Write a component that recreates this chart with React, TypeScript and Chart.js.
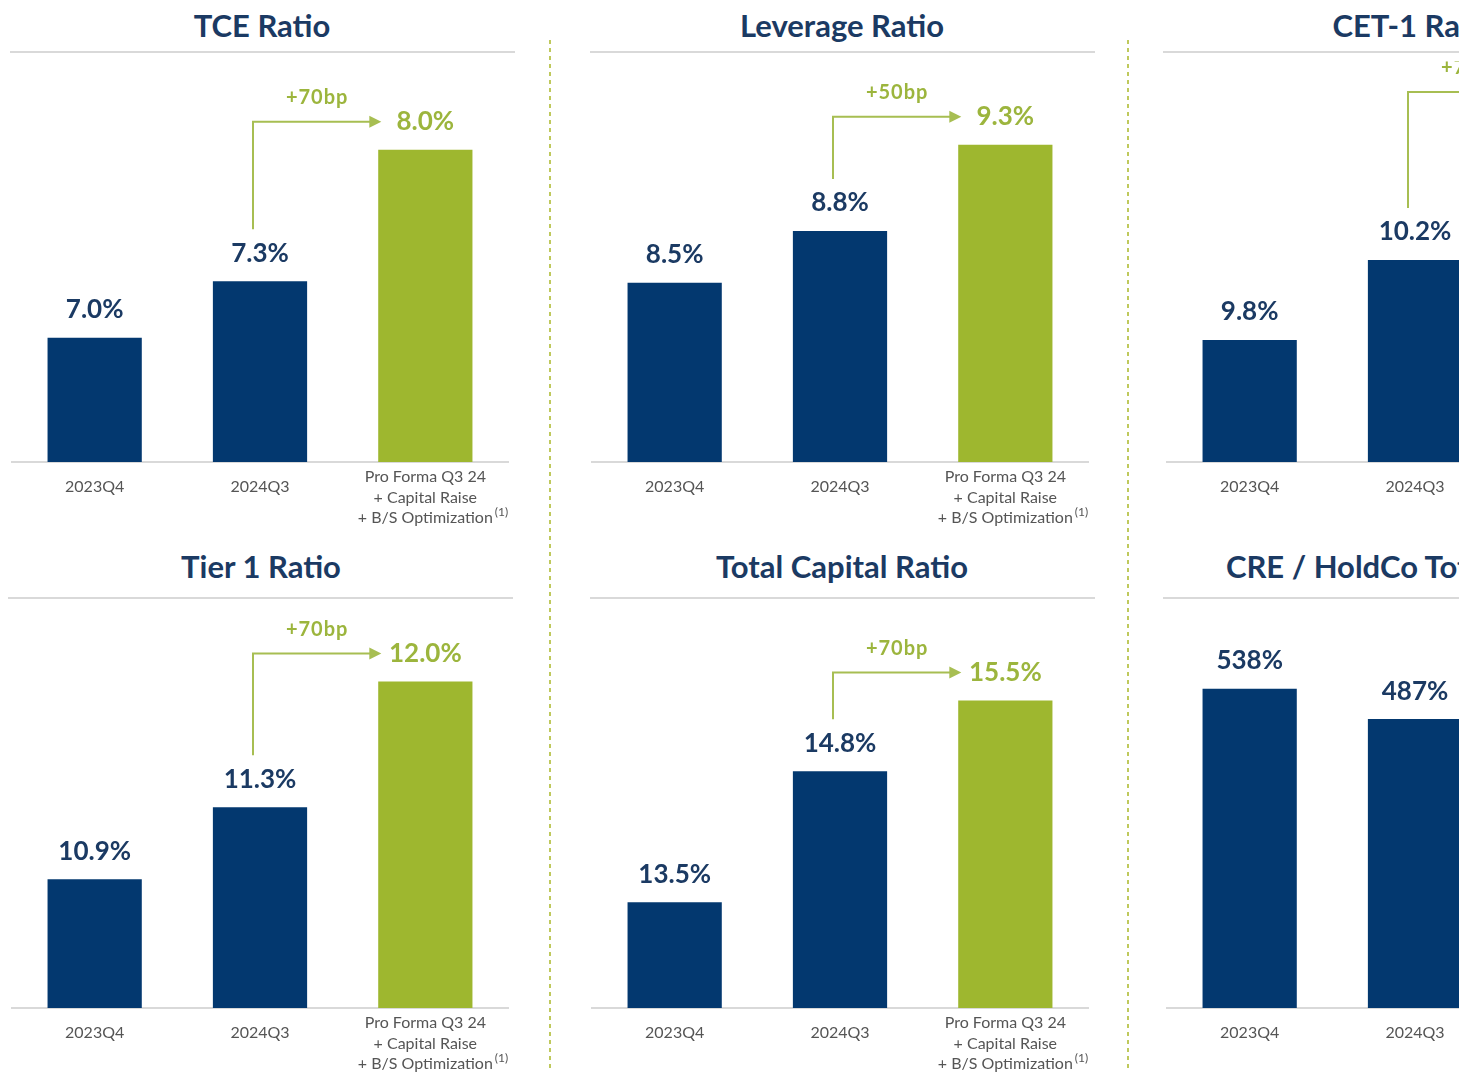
import React, { useEffect, useRef } from "react";
import { Chart, registerables } from "chart.js";

Chart.register(...registerables);

// ---------- data ----------
const categories = ["2023Q4", "2024Q3", "Pro Forma Q3 24\n+ Capital Raise\n+ B/S Optimization"];
const tceValues = [7.0, 7.3, 8.0];
const leverageValues = [8.5, 8.8, 9.3];
const cet1Values = [9.8, 10.2, 10.9];
const tier1Values = [10.9, 11.3, 12.0];
const totalCapitalValues = [13.5, 14.8, 15.5];
const creValues: (number | null)[] = [538, 487, null];
const changeLabels = ["+70bp", "+50bp", "+70bp", "+70bp", "+70bp", ""];
const panelTitles = ["TCE Ratio", "Leverage Ratio", "CET-1 Ratio", "Tier 1 Ratio", "Total Capital Ratio", "CRE / HoldCo Total Capital"];
const footnoteMark = "(1)";

// ---------- style ----------
const NAVY_BAR = "#03386F";
const GREEN_BAR = "#9EB72F";
const NAVY_TEXT = "#1B3A63";
const GREEN_TEXT = "#9CB53D";
const ARROW = "#A7BE52";
const TICK_GRAY = "#555555";
const RULE_GRAY = "#D9D9D9";
const FONT = "Lato, 'Open Sans', sans-serif";

const CANVAS_W = 520;
const CANVAS_H = 471;
const AREA_H = 401;

type Panel = {
  title: string;
  values: (number | null)[];
  change: string;
  decimals: number;
  min: number;
  max: number;
  left: number;
  top: number;
};

const panels: Panel[] = [
  { title: panelTitles[0], values: tceValues, change: changeLabels[0], decimals: 1, min: 6.34, max: 8.471, left: 0, top: 61 },
  { title: panelTitles[1], values: leverageValues, change: changeLabels[1], decimals: 1, min: 7.46, max: 9.785, left: 580, top: 61 },
  { title: panelTitles[2], values: cet1Values, change: changeLabels[2], decimals: 1, min: 9.19, max: 11.195, left: 1155, top: 61 },
  { title: panelTitles[3], values: tier1Values, change: changeLabels[3], decimals: 1, min: 10.184, max: 12.414, left: 0, top: 607 },
  { title: panelTitles[4], values: totalCapitalValues, change: changeLabels[4], decimals: 1, min: 12.453, max: 16.427, left: 580, top: 607 },
  { title: panelTitles[5], values: creValues, change: changeLabels[5], decimals: 0, min: 0, max: 676, left: 1155, top: 607 },
];

const TICK_SIZE = 16;
const TICK_LH = 1.28;

const annotPlugin = {
  id: "annot",
  afterDatasetsDraw(chart: any, _args: any, opts: any) {
    const { ctx } = chart;
    const meta = chart.getDatasetMeta(0);
    const values = chart.data.datasets[0].data;
    ctx.save();
    ctx.textAlign = "center";
    ctx.textBaseline = "middle";
    ctx.font = `bold 26px ${FONT}`;
    meta.data.forEach((bar: any, i: number) => {
      const v = values[i];
      if (v == null || !isFinite(bar.y)) return;
      ctx.fillStyle = i === 2 ? GREEN_TEXT : NAVY_TEXT;
      ctx.fillText(`${Number(v).toFixed(opts.decimals)}%`, bar.x, bar.y - 28);
    });
    if (opts.change && values[2] != null) {
      const b1 = meta.data[1];
      const b2 = meta.data[2];
      const vx = b1.x - 7;
      const yBottom = b1.y - 52;
      const yTop = b2.y - 28;
      const tip = b2.x - 44;
      ctx.strokeStyle = ARROW;
      ctx.lineWidth = 2;
      ctx.beginPath();
      ctx.moveTo(vx, yBottom);
      ctx.lineTo(vx, yTop);
      ctx.lineTo(tip - 8, yTop);
      ctx.stroke();
      ctx.fillStyle = ARROW;
      ctx.beginPath();
      ctx.moveTo(tip, yTop);
      ctx.lineTo(tip - 12, yTop - 6);
      ctx.lineTo(tip - 12, yTop + 6);
      ctx.closePath();
      ctx.fill();
      ctx.fillStyle = GREEN_TEXT;
      ctx.font = `bold 20px ${FONT}`;
      (ctx as any).letterSpacing = "1px";
      ctx.fillText(opts.change, (vx + tip) / 2, yTop - 24);
      (ctx as any).letterSpacing = "0px";
    }
    // footnote superscript after third tick label
    const xs = chart.scales.x;
    const lines = String(chart.data.labels[2]).split("\n");
    const last = lines[lines.length - 1];
    ctx.font = `${TICK_SIZE}px ${FONT}`;
    const w = ctx.measureText(last).width;
    const x = xs.getPixelForTick(2) + w / 2 + 2;
    const lh = TICK_SIZE * TICK_LH;
    const y = chart.chartArea.bottom + 15 + 2 * lh - 6;
    ctx.font = `12px ${FONT}`;
    ctx.textAlign = "left";
    ctx.fillStyle = TICK_GRAY;
    ctx.fillText(footnoteMark, x, y);
    ctx.restore();
  },
};

function PanelChart({ panel }: { panel: Panel }) {
  const ref = useRef<HTMLCanvasElement | null>(null);
  useEffect(() => {
    if (!ref.current) return;
    const chart = new Chart(ref.current, {
      type: "bar",
      data: {
        labels: categories,
        datasets: [
          {
            data: panel.values as any,
            backgroundColor: [NAVY_BAR, NAVY_BAR, GREEN_BAR],
            barPercentage: 0.57,
            categoryPercentage: 1,
          },
        ],
      },
      options: {
        animation: false,
        responsive: false,
        maintainAspectRatio: false,
        layout: { padding: { left: 12, right: 12, top: 0, bottom: 0 } },
        plugins: {
          legend: { display: false },
          tooltip: { enabled: false },
          title: { display: false },
          annot: { change: panel.change, decimals: panel.decimals },
        } as any,
        scales: {
          x: {
            grid: { display: false },
            border: { display: true, color: RULE_GRAY, width: 2 },
            afterFit: (scale: any) => {
              scale.height = CANVAS_H - AREA_H;
            },
            ticks: {
              color: TICK_GRAY,
              padding: 7,
              crossAlign: "center",
              maxRotation: 0,
              autoSkip: false,
              font: { family: FONT, size: TICK_SIZE, lineHeight: TICK_LH },
              callback: function (this: any, _v: any, i: number) {
                const parts = String(categories[i]).split("\n");
                return parts.length === 1 ? [parts[0], ""] : parts;
              },
            },
          },
          y: {
            display: false,
            min: panel.min,
            max: panel.max,
          },
        },
      },
      plugins: [annotPlugin],
    });
    return () => chart.destroy();
  }, [panel]);
  return (
    <canvas
      ref={ref}
      width={CANVAS_W}
      height={CANVAS_H}
      style={{ position: "absolute", left: panel.left, top: panel.top, width: CANVAS_W, height: CANVAS_H }}
    />
  );
}

const titleStyle = (cx: number, cy: number): React.CSSProperties => ({
  position: "absolute",
  left: cx - 300,
  width: 600,
  top: cy - 20,
  height: 40,
  lineHeight: "40px",
  textAlign: "center",
  fontFamily: FONT,
  fontWeight: 700,
  fontSize: 31,
  color: NAVY_TEXT,
  whiteSpace: "nowrap",
});

const rule = (x1: number, x2: number, y: number): React.CSSProperties => ({
  position: "absolute",
  left: x1,
  top: y - 1,
  width: x2 - x1,
  height: 2,
  background: RULE_GRAY,
});

const sep = (x: number): React.CSSProperties => ({
  position: "absolute",
  left: x - 1,
  top: 40,
  width: 2,
  height: 1030,
  background: "repeating-linear-gradient(to bottom, #BFC95C 0px, #BFC95C 4px, transparent 4px, transparent 8px)",
});

export default function App() {
  const titleCenters = [
    [262, 25],
    [842, 25],
    [1415, 25],
    [261, 566],
    [842, 566],
    [1411, 566],
  ];
  const rules: [number, number, number][] = [
    [10, 515, 52],
    [590, 1095, 52],
    [1163, 1459, 52],
    [8, 513, 598],
    [590, 1095, 598],
    [1163, 1459, 598],
  ];
  return (
    <div
      style={{
        position: "fixed",
        left: 0,
        top: 0,
        width: 1459,
        height: 1074,
        overflow: "hidden",
        background: "#FFFFFF",
      }}
    >
      {panels.map((p, i) => (
        <div key={"t" + i} style={titleStyle(titleCenters[i][0], titleCenters[i][1])}>
          {p.title}
        </div>
      ))}
      {rules.map((r, i) => (
        <div key={"r" + i} style={rule(r[0], r[1], r[2])} />
      ))}
      <div style={sep(550)} />
      <div style={sep(1128)} />
      {panels.map((p, i) => (
        <PanelChart key={"c" + i} panel={p} />
      ))}
    </div>
  );
}
